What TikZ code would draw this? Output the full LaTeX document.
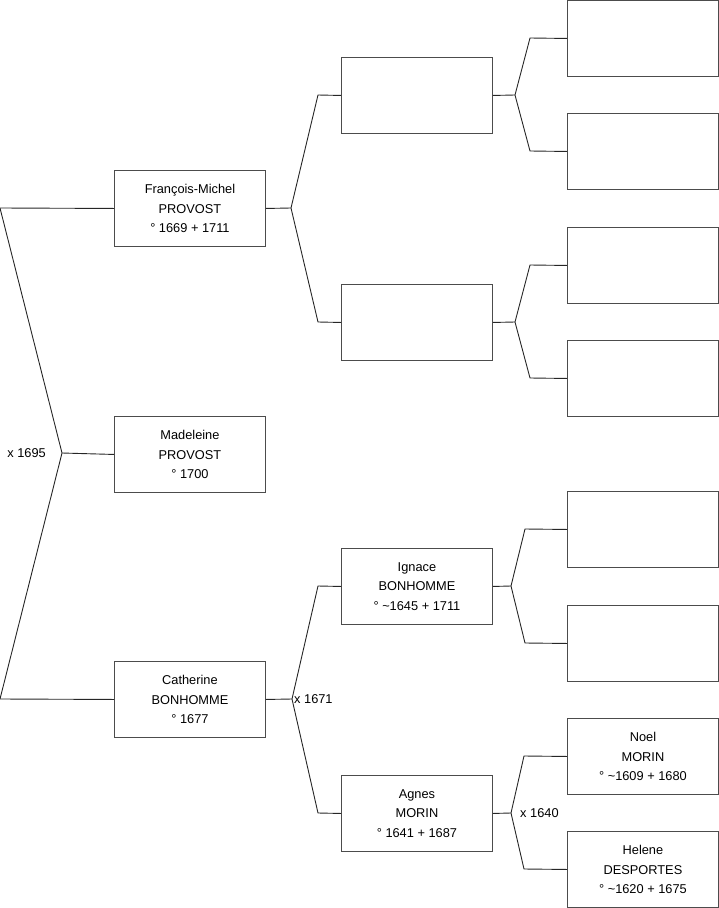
\documentclass[tikz,border=0pt]{standalone}
\usepackage{fontspec}
\setmainfont{Liberation Sans}
\begin{document}
\begin{tikzpicture}[x=1pt,y=-1pt,
  person/.style={draw=black!70, line width=0.9pt, minimum width=151pt, minimum height=76pt, inner sep=0pt, align=center, font=\fontsize{12.8}{19.6}\selectfont, anchor=north west},
  conn/.style={draw=black!85, line width=0.9pt},
  lbl/.style={font=\fontsize{12.8}{14}\selectfont, inner sep=0pt}]
\useasboundingbox (0,0) rectangle (719,908);
% column 1
\node[person] (fm) at (114,170) {François-Michel\\PROVOST\\° 1669 + 1711};
\node[person] (ma) at (114,416) {Madeleine\\PROVOST\\° 1700};
\node[person] (ca) at (114,661) {Catherine\\BONHOMME\\° 1677};
% column 2
\node[person] (p1) at (341,57) {};
\node[person] (p2) at (341,284) {};
\node[person] (ig) at (341,548) {Ignace\\BONHOMME\\° \textasciitilde1645 + 1711};
\node[person] (ag) at (341,775) {Agnes\\MORIN\\° 1641 + 1687};
% column 3
\node[person] (g1) at (567,0) {};
\node[person] (g2) at (567,113) {};
\node[person] (g3) at (567,227) {};
\node[person] (g4) at (567,340) {};
\node[person] (g5) at (567,491) {};
\node[person] (g6) at (567,605) {};
\node[person] (no) at (567,718) {Noel\\MORIN\\° \textasciitilde1609 + 1680};
\node[person] (he) at (567,831) {Helene\\DESPORTES\\° \textasciitilde1620 + 1675};
% junction coordinates
\coordinate (L1) at (0,208);
\coordinate (J0) at (62,453);
\coordinate (L3) at (0,699);
\coordinate (J1) at (291,208);
\coordinate (J1a) at (318,95);
\coordinate (J1b) at (318,322);
\coordinate (J2) at (292,699);
\coordinate (J2a) at (318,586);
\coordinate (J2b) at (318,813);
\coordinate (K1) at (515,95);
\coordinate (K1a) at (530,38);
\coordinate (K1b) at (530,151);
\coordinate (K2) at (515,322);
\coordinate (K2a) at (530,265);
\coordinate (K2b) at (530,378);
\coordinate (K3) at (511,586);
\coordinate (K3a) at (525,529);
\coordinate (K3b) at (525,643);
\coordinate (K4) at (511,813);
\coordinate (K4a) at (524,756);
\coordinate (K4b) at (524,869);
% connectors
\draw[conn] (fm.west) -- (L1) -- (J0) -- (L3) -- (ca.west);
\draw[conn] (J0) -- (ma.west);
\draw[conn] (fm.east) -- (J1);
\draw[conn] (p1.west) -- (J1a) -- (J1) -- (J1b) -- (p2.west);
\draw[conn] (ca.east) -- (J2);
\draw[conn] (ig.west) -- (J2a) -- (J2) -- (J2b) -- (ag.west);
\draw[conn] (p1.east) -- (K1);
\draw[conn] (g1.west) -- (K1a) -- (K1) -- (K1b) -- (g2.west);
\draw[conn] (p2.east) -- (K2);
\draw[conn] (g3.west) -- (K2a) -- (K2) -- (K2b) -- (g4.west);
\draw[conn] (ig.east) -- (K3);
\draw[conn] (g5.west) -- (K3a) -- (K3) -- (K3b) -- (g6.west);
\draw[conn] (ag.east) -- (K4);
\draw[conn] (no.west) -- (K4a) -- (K4) -- (K4b) -- (he.west);
% marriage labels
\node[lbl, anchor=east] (m1) at (46,453) {x 1695};
\node[lbl, anchor=west] (m2) at (294,699) {x 1671};
\node[lbl, anchor=west] (m3) at (520,813) {x 1640};
\end{tikzpicture}
\end{document}
